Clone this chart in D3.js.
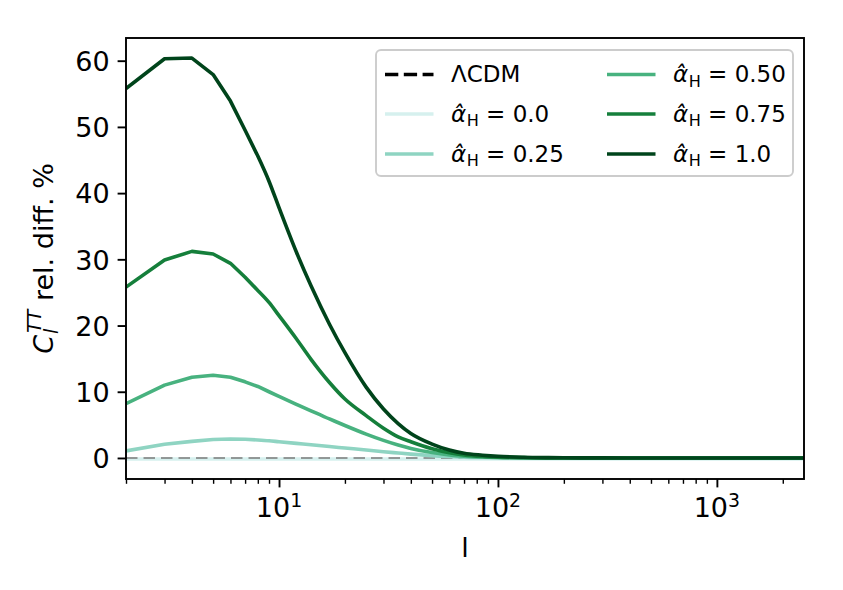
<!DOCTYPE html>
<html>
<head>
<meta charset="utf-8">
<script src="https://cdn.jsdelivr.net/npm/d3@7"></script>
<style>
  html, body { margin: 0; padding: 0; background: #ffffff; }
  svg { display: block; font-family: "DejaVu Sans", sans-serif; }
</style>
</head>
<body>
<svg id="chart" width="843" height="590"></svg>
<script>
// ---------------- data ----------------
const ell = [2, 3, 4, 5, 6, 7, 8, 9, 10, 12, 14, 17, 20, 25, 30, 35, 40, 50, 60, 70, 85, 100, 130, 170, 200, 300, 500, 1000, 2500];

const alphaH_000 = [-0.15, -0.15, -0.15, -0.15, -0.15, -0.15, -0.15, -0.15, -0.15, -0.15, -0.15, -0.15, -0.15, -0.15, -0.15, -0.15, -0.15, -0.15, -0.15, -0.15, -0.15, -0.15, -0.15, -0.15, -0.15, -0.15, -0.15, -0.15, -0.15];
const alphaH_025 = [1.06, 2.07, 2.5, 2.78, 2.87, 2.82, 2.72, 2.6, 2.45, 2.2, 2.0, 1.72, 1.5, 1.2, 0.95, 0.75, 0.58, 0.35, 0.22, 0.13, 0.07, 0.04, 0.02, 0.01, 0.0, 0.0, 0.0, 0.0, 0.0];
const alphaH_050 = [8.2, 11.0, 12.2, 12.5, 12.2, 11.5, 10.8, 10.0, 9.3, 8.1, 7.1, 5.9, 4.9, 3.6, 2.65, 1.95, 1.44, 0.81, 0.46, 0.27, 0.14, 0.08, 0.03, 0.01, 0.0, 0.0, 0.0, 0.0, 0.0];
const alphaH_075 = [25.8, 29.9, 31.2, 30.8, 29.4, 27.3, 25.3, 23.5, 21.5, 18.0, 14.9, 11.4, 8.9, 6.4, 4.5, 3.2, 2.45, 1.4, 0.8, 0.45, 0.22, 0.12, 0.05, 0.02, 0.01, 0.0, 0.0, 0.0, 0.0];
const alphaH_100 = [55.8, 60.3, 60.4, 57.9, 53.9, 49.5, 45.6, 41.8, 37.8, 31.1, 26.0, 20.2, 15.9, 10.7, 7.4, 5.2, 3.7, 2.1, 1.2, 0.7, 0.42, 0.25, 0.11, 0.05, 0.03, 0.01, 0.0, 0.0, 0.0];

const seriesNames  = ["0.0", "0.25", "0.50", "0.75", "1.0"];
const seriesValues = [alphaH_000, alphaH_025, alphaH_050, alphaH_075, alphaH_100];
const cmapPositions = [0.2, 0.4, 0.6, 0.8, 1.0];

const lcdmValue = 0;
const yTickValues = [0, 10, 20, 30, 40, 50, 60];
const xTickExponents = [1, 2, 3];
const xDomain = [2, 2500];
const smoothFrom = 8;   // integer-l samples are straight segments below this, smooth above

// ---------------- layout ----------------
const W = 843, H = 590;
const plot = { left: 126, right: 804, top: 38, bottom: 479 };
const FS = 27;          // axis font size (px)
const LFS = 23;         // legend font size (px)
const LW = 3.6;         // curve line width
const SPINE = 1.9;

const svg = d3.select("#chart");

// colormap like matplotlib BuGn (linear segments)
const bugn = d3.scaleLinear()
  .domain(d3.range(9).map(i => i / 8))
  .range(d3.schemeBuGn[9])
  .interpolate(d3.interpolateRgb);
const colors = cmapPositions.map(t => bugn(t));

// scales
const x = d3.scaleLog().domain(xDomain).range([plot.left, plot.right]);
const allVals = seriesValues.flat().concat([lcdmValue]);
const [vmin, vmax] = d3.extent(allVals);
const pad = 0.05 * (vmax - vmin);
const y = d3.scaleLinear().domain([vmin - pad, vmax + pad]).range([plot.bottom, plot.top]);

// clip
svg.append("defs").append("clipPath").attr("id", "clip")
  .append("rect").attr("x", plot.left).attr("y", plot.top)
  .attr("width", plot.right - plot.left).attr("height", plot.bottom - plot.top);

const gPlot = svg.append("g").attr("clip-path", "url(#clip)");

// curve builder: straight segments at low l, monotone smoothing above
const lineLin = d3.line().x(d => x(d[0])).y(d => y(d[1]));
const lineSmooth = d3.line().x(d => x(d[0])).y(d => y(d[1])).curve(d3.curveMonotoneX);
function pathFor(vals) {
  const pts = ell.map((l, j) => [l, vals[j]]);
  const low = pts.filter(p => p[0] <= smoothFrom);
  const high = pts.filter(p => p[0] >= smoothFrom);
  return lineLin(low) + lineSmooth(high).replace(/^M/, "L");
}

function drawSeries(i) {
  gPlot.append("path")
    .attr("d", pathFor(seriesValues[i]))
    .attr("fill", "none")
    .attr("stroke", colors[i])
    .attr("stroke-width", LW)
    .attr("stroke-linejoin", "round")
    .attr("stroke-linecap", "butt");
}

drawSeries(0);
// ΛCDM reference (dashed thin grey)
gPlot.append("line")
  .attr("x1", x(xDomain[0])).attr("x2", x(xDomain[1]))
  .attr("y1", y(lcdmValue)).attr("y2", y(lcdmValue))
  .attr("stroke", "#7a7a7a").attr("stroke-width", 1.4)
  .attr("stroke-dasharray", "11.5,6");
for (let i = 1; i < seriesValues.length; i++) drawSeries(i);

// ---------------- axes ----------------
const yAxis = d3.axisLeft(y).tickValues(yTickValues).tickSize(8.4).tickPadding(8).tickFormat(d3.format("d"));
const gy = svg.append("g").attr("transform", `translate(${plot.left},0)`).call(yAxis);
gy.select(".domain").remove();
gy.selectAll(".tick line").attr("stroke", "#000").attr("stroke-width", SPINE);
gy.selectAll(".tick text").attr("font-size", FS).attr("fill", "#000")
  .attr("font-family", "DejaVu Sans").attr("dy", "0.36em");

const majorX = xTickExponents.map(e => Math.pow(10, e));
const minorX = [];
for (let e = 0; e <= 3; e++) for (let m = 2; m <= 9; m++) {
  const v = m * Math.pow(10, e);
  if (v >= xDomain[0] && v <= xDomain[1]) minorX.push(v);
}
const xAxisMajor = d3.axisBottom(x).tickValues(majorX).tickSize(8.4).tickFormat("");
const xAxisMinor = d3.axisBottom(x).tickValues(minorX).tickSize(4.8).tickFormat("");
const gxMinor = svg.append("g").attr("transform", `translate(0,${plot.bottom})`).call(xAxisMinor);
gxMinor.select(".domain").remove();
gxMinor.selectAll(".tick line").attr("stroke", "#000").attr("stroke-width", 1.4);
const gx = svg.append("g").attr("transform", `translate(0,${plot.bottom})`).call(xAxisMajor);
gx.select(".domain").remove();
gx.selectAll(".tick line").attr("stroke", "#000").attr("stroke-width", SPINE);

// x tick labels 10^k
const xl = svg.append("g");
xTickExponents.forEach(e => {
  const t = xl.append("text")
    .attr("x", x(Math.pow(10, e))).attr("y", 517)
    .attr("text-anchor", "middle").attr("font-size", FS).attr("fill", "#000");
  t.append("tspan").text("10");
  t.append("tspan").attr("font-size", FS * 0.7).attr("dy", -10).text(String(e));
});

// spines
svg.append("rect")
  .attr("x", plot.left).attr("y", plot.top)
  .attr("width", plot.right - plot.left).attr("height", plot.bottom - plot.top)
  .attr("fill", "none").attr("stroke", "#000").attr("stroke-width", SPINE);

// x label
svg.append("text").attr("x", (plot.left + plot.right) / 2).attr("y", 557)
  .attr("text-anchor", "middle").attr("font-size", FS).attr("fill", "#000").text("l");

// y label  C_l^{TT} rel. diff. %
const yl = svg.append("text")
  .attr("transform", `translate(53,${(plot.top + plot.bottom) / 2}) rotate(-90)`)
  .attr("text-anchor", "middle").attr("font-size", FS).attr("fill", "#000");
yl.append("tspan").attr("font-style", "italic").text("C");
yl.append("tspan").attr("font-style", "italic").attr("font-size", FS * 0.7).attr("dy", 5).attr("dx", 1).text("l");
yl.append("tspan").attr("font-style", "italic").attr("font-size", FS * 0.7).attr("dy", -17).attr("dx", -4).text("TT");
yl.append("tspan").attr("dy", 12).text(" rel. diff. %");

// ---------------- legend ----------------
const legend = svg.append("g");
legend.append("rect")
  .attr("x", 376).attr("y", 50).attr("width", 417).attr("height", 126)
  .attr("rx", 5).attr("ry", 5)
  .attr("fill", "#fff").attr("fill-opacity", 0.8)
  .attr("stroke", "#cccccc").attr("stroke-width", 1.9);

const legendItems = [
  { kind: "lcdm", col: 0, row: 0 },
  { kind: "s", idx: 0, col: 0, row: 1 },
  { kind: "s", idx: 1, col: 0, row: 2 },
  { kind: "s", idx: 2, col: 1, row: 0 },
  { kind: "s", idx: 3, col: 1, row: 1 },
  { kind: "s", idx: 4, col: 1, row: 2 }
];
const colHandleX = [385, 607], handleLen = 48.5, colTextX = [451, 673], rowY = [74.5, 114, 154];

legendItems.forEach(it => {
  const hx = colHandleX[it.col], cy = rowY[it.row], tx = colTextX[it.col];
  const h = legend.append("line").attr("x1", hx).attr("x2", hx + handleLen).attr("y1", cy).attr("y2", cy)
    .attr("stroke-width", LW);
  const t = legend.append("text").attr("x", tx).attr("y", cy + 7.5).attr("font-size", LFS).attr("fill", "#000");
  if (it.kind === "lcdm") {
    h.attr("stroke", "#000").attr("stroke-dasharray", "13.3,5.5");
    t.text("ΛCDM");
  } else {
    h.attr("stroke", colors[it.idx]);
    t.append("tspan").attr("font-style", "italic").text("α\u0302");
    t.append("tspan").attr("font-size", LFS * 0.7).attr("dy", 4.5).attr("dx", 0.5).text("H");
    t.append("tspan").attr("dy", -4.5).text(" = " + seriesNames[it.idx]);
  }
});
</script>
</body>
</html>
